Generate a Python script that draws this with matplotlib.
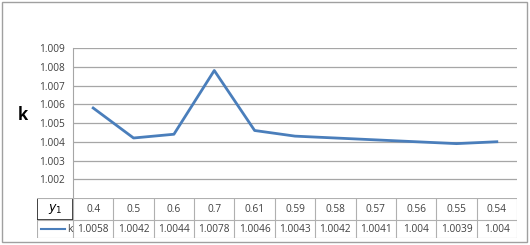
import matplotlib.pyplot as plt
from matplotlib.patches import Rectangle

y1 = ["0.4", "0.5", "0.6", "0.7", "0.61", "0.59", "0.58", "0.57", "0.56", "0.55", "0.54"]
k = [1.0058, 1.0042, 1.0044, 1.0078, 1.0046, 1.0043, 1.0042, 1.0041, 1.004, 1.0039, 1.004]
k_labels = ["1.0058", "1.0042", "1.0044", "1.0078", "1.0046", "1.0043", "1.0042",
            "1.0041", "1.004", "1.0039", "1.004"]
yticks = [1.002, 1.003, 1.004, 1.005, 1.006, 1.007, 1.008, 1.009]

W, H = 530, 245
plt.rcParams['font.family'] = ['Open Sans', 'DejaVu Sans']
fig = plt.figure(figsize=(W / 100, H / 100), dpi=100)

def box(l, t, r, b):
    return [l / W, 1 - b / H, (r - l) / W, (b - t) / H]

fig.patches.append(Rectangle((2 / W, 3 / H), 525 / W, 240 / H, transform=fig.transFigure,
                             fill=False, edgecolor='#a0a0a0', lw=1))

ax = fig.add_axes(box(73, 48, 517, 198))
x = list(range(len(k)))
ax.plot(x, k, color='#4a7ebb', lw=2.0, solid_joinstyle='round')
ax.set_xlim(-0.5, 10.5)
ax.set_ylim(1.001, 1.009)
ax.set_yticks(yticks)
ax.set_yticklabels([f"{v:.3f}" for v in yticks], fontsize=7.3, color='#404040')
ax.set_xticks([])
ax.tick_params(axis='y', length=0, pad=6)
ax.grid(axis='y', color='#a6a6a6', lw=0.9)
for s in ['top', 'right', 'bottom']:
    ax.spines[s].set_visible(False)
ax.spines['left'].set_color('#a6a6a6')
fig.text(23 / W, 1 - 115 / H, 'k', fontsize=12, fontweight='bold', ha='center', va='center')

# data table
col = 444 / 11
tab = fig.add_axes(box(37, 198, 517, 238))
tab.set_xlim(-0.5 - 36 / col, 10.5)
tab.set_ylim(0, 40)
tab.axis('off')
grid_c = '#b0b0b0'
for i in range(len(y1) + 1):
    tab.plot([i - 0.5, i - 0.5], [0, 40], color=grid_c, lw=0.8)
for yy in [0, 18, 40]:
    tab.plot([-0.5 - 36 / col, 10.5], [yy, yy], color=grid_c, lw=0.8)
tab.plot([-0.5 - 36 / col, -0.5 - 36 / col], [0, 18], color=grid_c, lw=0.8)
tab.add_patch(Rectangle((-0.5 - 36 / col, 18), 36 / col, 22, fill=False,
                        edgecolor='#202020', lw=1.2))
for i in x:
    tab.text(i, 29, y1[i], fontsize=7.3, ha='center', va='center', color='#404040')
    tab.text(i, 9, k_labels[i], fontsize=7.3, ha='center', va='center', color='#404040')
tab.text(-0.5 - 18 / col, 29, r'$\mathit{y}_1$', fontsize=9, ha='center', va='center',
         family='DejaVu Serif')
tab.plot([-0.5 - 32 / col, -0.5 - 8 / col], [9, 9], color='#4a7ebb', lw=1.5)
tab.text(-0.5 - 6 / col, 9, 'k', fontsize=7.3, ha='left', va='center', color='#404040')

fig.savefig('out.png', dpi=100)
